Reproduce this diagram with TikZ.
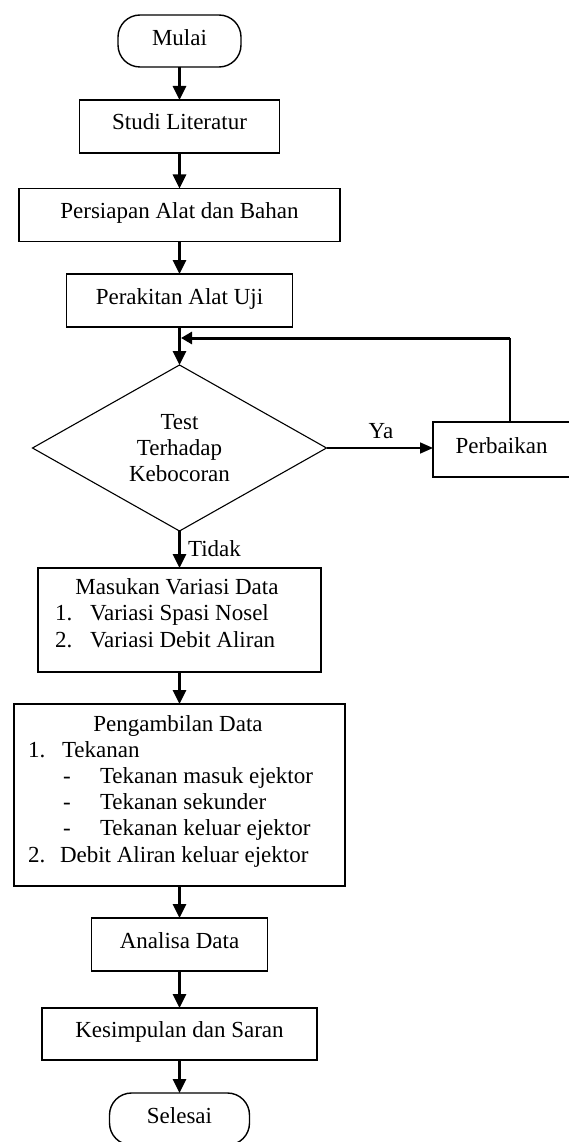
\documentclass[tikz,border=0pt]{standalone}
\usepackage{fontspec}
\setmainfont{Liberation Serif}
\usetikzlibrary{shapes.geometric,arrows.meta}
\begin{document}
\begin{tikzpicture}[x=1pt,y=-1pt,
  every node/.style={font=\fontsize{23}{26}\selectfont, inner sep=0pt, outer sep=0pt},
  box/.style={draw, line width=1.6pt, rectangle, text height=16pt, text depth=9pt},
  term/.style={draw, line width=1.4pt, rectangle, rounded corners=22pt, text height=16pt, text depth=7pt},
  txt/.style={anchor=base west},
  ctxt/.style={anchor=base},
  flow/.style={line width=3pt, -{Triangle[length=14pt,width=13pt]}},
  thinflow/.style={line width=1.6pt, -{Triangle[length=13pt,width=11pt]}},
  fbflow/.style={line width=3pt, -{Triangle[length=11pt,width=12pt]}},
  fbline/.style={line width=1.8pt}
]
\fill[white] (0,0) rectangle (568,1142);
\useasboundingbox (0,0) rectangle (568,1142);

% terminals and process boxes
\node[term, minimum width=123pt, minimum height=52pt] (mulai) at (179.5,41) {Mulai};
\node[box, minimum width=200pt, minimum height=53pt] (studi) at (179.5,126.5) {Studi Literatur};
\node[box, minimum width=321pt, minimum height=53pt] (persiapan) at (179.5,215) {Persiapan Alat dan Bahan};
\node[box, minimum width=226pt, minimum height=53pt] (perakitan) at (179.5,300.5) {Perakitan Alat Uji};
\node[diamond, draw, line width=1.1pt, aspect=1.77, minimum width=294pt, minimum height=166pt, align=center] (test) at (179.5,448) {Test\\Terhadap\\Kebocoran};
\node[box, minimum width=137pt, minimum height=55pt] (perb) at (501.5,449.5) {Perbaikan};

\node[box, minimum width=283pt, minimum height=104pt] (masukan) at (179.5,620) {};
\node[ctxt] (m0) at (177,594) {Masukan Variasi Data};
\node[txt] (m1n) at (55,620) {1.};
\node[txt] (m1) at (90,620) {Variasi Spasi Nosel};
\node[txt] (m2n) at (55,647) {2.};
\node[txt] (m2) at (90,647) {Variasi Debit Aliran};

\node[box, minimum width=331pt, minimum height=182pt] (ambil) at (179.5,795) {};
\node[ctxt] (p0) at (178,731) {Pengambilan Data};
\node[txt] (p1n) at (28,757) {1.};
\node[txt] (p1) at (62,757) {Tekanan};
\node[txt] (p2d) at (63,783) {-};
\node[txt] (p2) at (100,783) {Tekanan masuk ejektor};
\node[txt] (p3d) at (63,809) {-};
\node[txt] (p3) at (100,809) {Tekanan sekunder};
\node[txt] (p4d) at (63,835) {-};
\node[txt] (p4) at (100,835) {Tekanan keluar ejektor};
\node[txt] (p5n) at (28,862) {2.};
\node[txt] (p5) at (60,862) {Debit Aliran keluar ejektor};

\node[box, minimum width=176pt, minimum height=53pt] (analisa) at (179.5,944.5) {Analisa Data};
\node[box, minimum width=275pt, minimum height=52pt] (kesimpulan) at (179.5,1034) {Kesimpulan dan Saran};
\node[term, minimum width=140pt, minimum height=52pt] (selesai) at (179.5,1119) {Selesai};

% labels
\node (ya) at (381,431) {Ya};
\node[anchor=west] (tidak) at (188,549) {Tidak};

% feedback coordinates
\coordinate (fbc) at (510,338);
\coordinate (fbj) at (181,338);

% connectors
\draw[flow] (mulai.south) -- (studi.north);
\draw[flow] (studi.south) -- (persiapan.north);
\draw[flow] (persiapan.south) -- (perakitan.north);
\draw[flow] (perakitan.south) -- (test.north);
\draw[thinflow] (test.east) -- (test.east -| perb.west);
\draw[fbline] (perb.north -| fbc) -- (fbc);
\draw[fbflow] (fbc) -- (fbj);
\draw[flow] (test.south) -- (masukan.north);
\draw[flow] (masukan.south) -- (ambil.north);
\draw[flow] (ambil.south) -- (analisa.north);
\draw[flow] (analisa.south) -- (kesimpulan.north);
\draw[flow] (kesimpulan.south) -- (selesai.north);
\end{tikzpicture}
\end{document}
